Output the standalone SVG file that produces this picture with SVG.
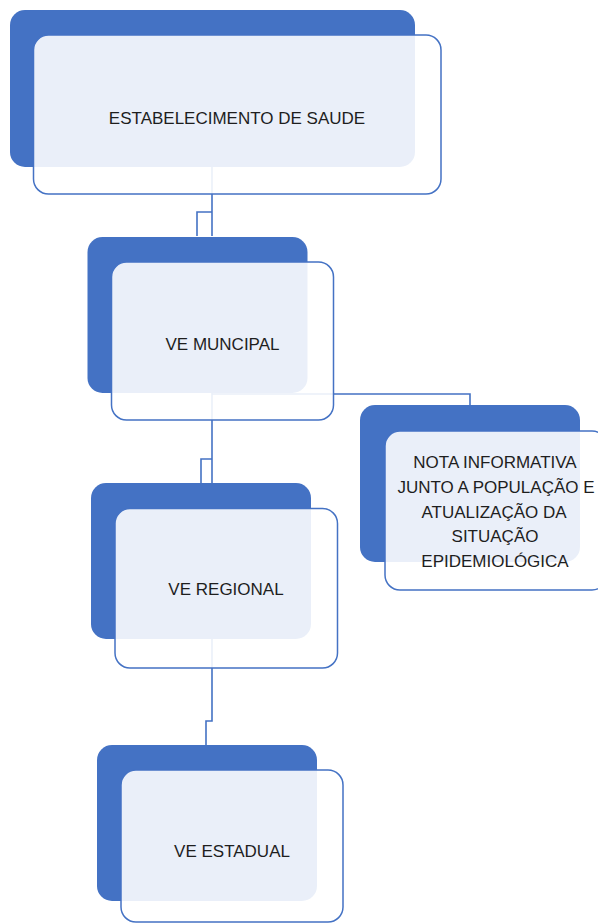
<svg xmlns="http://www.w3.org/2000/svg" width="598" height="924" viewBox="0 0 598 924">
<style>
.back{fill:#4472C4;}
.front{fill:#FFFFFF;fill-opacity:0.89;stroke:#4472C4;stroke-width:1.5;}
.lbl{font-family:"Liberation Sans",Arial,sans-serif;font-size:17px;fill:#1E1E1E;text-anchor:middle;}
.conn{fill:none;stroke:#4472C4;stroke-width:1.6;}
</style>
<rect width="598" height="924" fill="#FFFFFF"/>
<g id="connectors">
<path class="conn" d="M212,167 V236"/>
<path class="conn" d="M212,212 H197 V236"/>
<path class="conn" d="M212,393 V483"/>
<path class="conn" d="M212,459 H201 V483"/>
<path class="conn" d="M212,394 H470 V405"/>
<path class="conn" d="M212,639 V721 H206 V745"/>
</g>
<g id="node-estabelecimento">
<rect class="back" x="10" y="10" width="405" height="157" rx="15"/>
<rect class="front" x="33.5" y="35" width="407.5" height="159" rx="15"/>
<text class="lbl" x="237" y="123.5">ESTABELECIMENTO DE SAUDE</text>
</g>
<g id="node-ve-municipal">
<rect class="back" x="87.5" y="237" width="220" height="156" rx="15"/>
<rect class="front" x="111.5" y="262" width="222" height="158" rx="15"/>
<text class="lbl" x="222.5" y="350">VE MUNCIPAL</text>
</g>
<g id="node-nota-informativa">
<rect class="back" x="360" y="405" width="220" height="157" rx="15"/>
<rect class="front" x="385" y="431" width="222" height="159" rx="15"/>
<text class="lbl" x="495" y="468">NOTA INFORMATIVA</text>
<text class="lbl" x="496" y="493">JUNTO A POPULAÇÃO E</text>
<text class="lbl" x="494" y="518">ATUALIZAÇÃO DA</text>
<text class="lbl" x="495" y="542">SITUAÇÃO</text>
<text class="lbl" x="495" y="567">EPIDEMIOLÓGICA</text>
</g>
<g id="node-ve-regional">
<rect class="back" x="91" y="483" width="220" height="156" rx="15"/>
<rect class="front" x="115" y="508.5" width="222.5" height="159.5" rx="15"/>
<text class="lbl" x="226" y="595">VE REGIONAL</text>
</g>
<g id="node-ve-estadual">
<rect class="back" x="97" y="745" width="220" height="156" rx="15"/>
<rect class="front" x="121" y="770" width="222" height="152" rx="15"/>
<text class="lbl" x="232" y="857">VE ESTADUAL</text>
</g>
</svg>
